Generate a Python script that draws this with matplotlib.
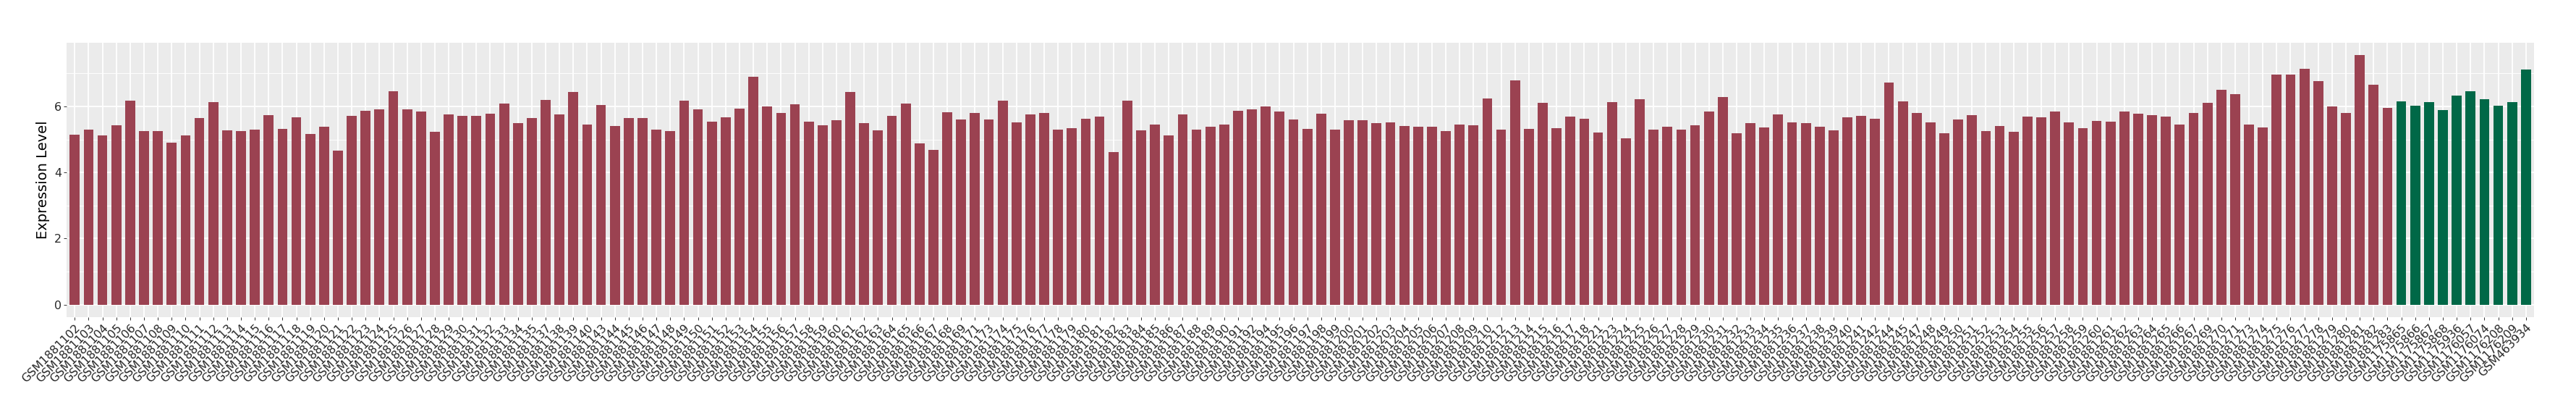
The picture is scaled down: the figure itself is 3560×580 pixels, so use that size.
import numpy as np
import matplotlib
matplotlib.use("Agg")
import matplotlib.pyplot as plt
from matplotlib.ticker import MultipleLocator

plt.rcParams["font.family"] = ["DejaVu Sans"]

# sample ids (GSM numbers) and expression values
tumor_ids = [
    1881102, 1881103, 1881104, 1881105, 1881106, 1881107, 1881108, 1881109, 1881110, 1881111,
    1881112, 1881113, 1881114, 1881115, 1881116, 1881117, 1881118, 1881119, 1881120, 1881121,
    1881122, 1881123, 1881124, 1881125, 1881126, 1881127, 1881128, 1881129, 1881130, 1881131,
    1881132, 1881133, 1881134, 1881135, 1881137, 1881138, 1881139, 1881140, 1881143, 1881144,
    1881145, 1881146, 1881147, 1881148, 1881149, 1881150, 1881151, 1881152, 1881153, 1881154,
    1881155, 1881156, 1881157, 1881158, 1881159, 1881160, 1881161, 1881162, 1881163, 1881164,
    1881165, 1881166, 1881167, 1881168, 1881169, 1881171, 1881173, 1881174, 1881175, 1881176,
    1881177, 1881178, 1881179, 1881180, 1881181, 1881182, 1881183, 1881184, 1881185, 1881186,
    1881187, 1881188, 1881189, 1881190, 1881191, 1881192, 1881194, 1881195, 1881196, 1881197,
    1881198, 1881199, 1881200, 1881201, 1881202, 1881203, 1881204, 1881205, 1881206, 1881207,
    1881208, 1881209, 1881210, 1881212, 1881213, 1881214, 1881215, 1881216, 1881217, 1881218,
    1881221, 1881223, 1881224, 1881225, 1881226, 1881227, 1881228, 1881229, 1881230, 1881231,
    1881232, 1881233, 1881234, 1881235, 1881236, 1881237, 1881238, 1881239, 1881240, 1881241,
    1881242, 1881244, 1881245, 1881247, 1881248, 1881249, 1881250, 1881251, 1881252, 1881253,
    1881254, 1881255, 1881256, 1881257, 1881258, 1881259, 1881260, 1881261, 1881262, 1881263,
    1881264, 1881265, 1881266, 1881267, 1881269, 1881270, 1881271, 1881273, 1881274, 1881275,
    1881276, 1881277, 1881278, 1881279, 1881280, 1881281, 1881282, 1881283,
]
tumor_values = [
    5.14, 5.30, 5.13, 5.43, 6.18, 5.26, 5.26, 4.91, 5.13, 5.65,
    6.14, 5.27, 5.26, 5.30, 5.74, 5.32, 5.67, 5.17, 5.39, 4.66,
    5.72, 5.87, 5.92, 6.47, 5.92, 5.85, 5.23, 5.76, 5.72, 5.72,
    5.79, 6.10, 5.50, 5.65, 6.20, 5.76, 6.45, 5.45, 6.05, 5.41,
    5.65, 5.65, 5.30, 5.26, 6.18, 5.92, 5.54, 5.67, 5.94, 6.89,
    6.01, 5.80, 6.07, 5.54, 5.43, 5.58, 6.45, 5.50, 5.27, 5.72,
    6.10, 4.88, 4.68, 5.83, 5.61, 5.80, 5.61, 6.18, 5.52, 5.76,
    5.80, 5.30, 5.35, 5.63, 5.70, 4.61, 6.18, 5.27, 5.45, 5.13,
    5.76, 5.30, 5.39, 5.45, 5.87, 5.92, 6.01, 5.85, 5.61, 5.32,
    5.79, 5.30, 5.58, 5.58, 5.50, 5.52, 5.41, 5.39, 5.39, 5.26,
    5.45, 5.43, 6.24, 5.30, 6.78, 5.32, 6.11, 5.35, 5.70, 5.63,
    5.21, 6.14, 5.04, 6.23, 5.30, 5.39, 5.30, 5.43, 5.85, 6.29,
    5.19, 5.50, 5.36, 5.76, 5.52, 5.50, 5.39, 5.27, 5.67, 5.72,
    5.63, 6.73, 6.16, 5.80, 5.52, 5.19, 5.61, 5.74, 5.26, 5.41,
    5.23, 5.70, 5.67, 5.85, 5.52, 5.35, 5.57, 5.54, 5.85, 5.79,
    5.74, 5.70, 5.45, 5.80, 6.11, 6.51, 6.38, 5.45, 5.36, 6.96,
    6.96, 7.15, 6.76, 6.01, 5.80, 7.55, 6.67, 5.96,
]
normal_ids = [1175865, 1175866, 1175867, 1175868, 1175936, 1176057, 1176074, 1176208, 1176209, 463934]
normal_values = [6.16, 6.02, 6.14, 5.89, 6.33, 6.47, 6.23, 6.02, 6.14, 7.13]

labels = [f"GSM{i}" for i in tumor_ids + normal_ids]
values = tumor_values + normal_values
colors = ["#9B4251"] * len(tumor_values) + ["#006847"] * len(normal_values)
x = np.arange(len(values))

fig = plt.figure(figsize=(35.6, 5.8), dpi=100)
ax = fig.add_axes([0.0258, 0.245, 0.958, 0.653])

ax.set_facecolor("#EBEBEB")
ax.bar(x, values, width=0.72, color=colors, zorder=3)

vmax = max(values)
ax.set_xlim(-0.6, len(values) - 1 + 0.6)
ax.set_ylim(-0.05 * vmax, 1.05 * vmax)

ax.set_xticks(x)
ax.set_xticklabels(labels, rotation=45, ha="right", va="top",
                   rotation_mode="anchor", fontsize=11.4, color="#262626")
ax.yaxis.set_major_locator(MultipleLocator(2))
ax.yaxis.set_minor_locator(MultipleLocator(1))
ax.tick_params(axis="y", labelsize=11.4, labelcolor="#262626")
ax.tick_params(which="major", length=2.75, width=0.7, color="#333333", pad=2.2)
ax.tick_params(which="minor", length=0)

ax.grid(which="major", color="white", linewidth=1.3, zorder=0)
ax.grid(which="minor", axis="y", color="white", linewidth=0.65, zorder=0)
ax.set_axisbelow(True)
for s in ax.spines.values():
    s.set_visible(False)

ax.set_ylabel("Expression Level", fontsize=14, color="black", labelpad=4)

fig.savefig("out.png", dpi=100)
